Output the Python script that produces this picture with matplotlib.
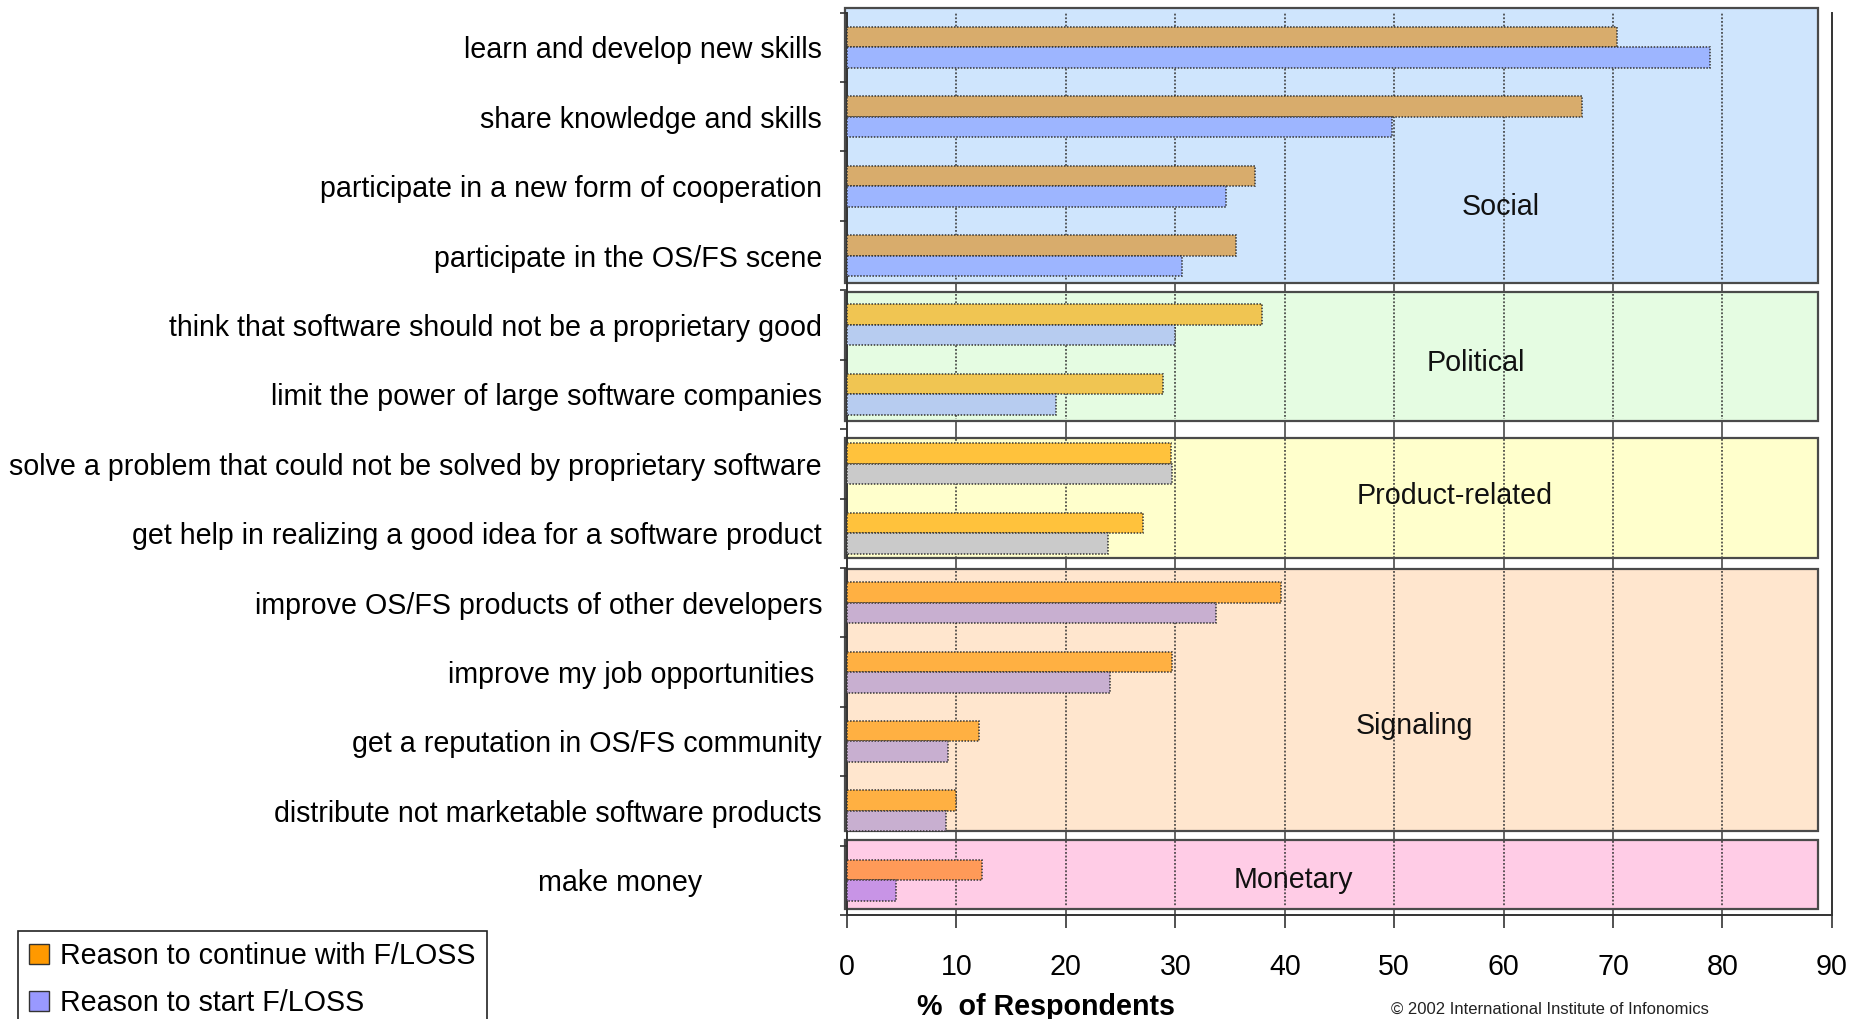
import matplotlib
matplotlib.use("Agg")
import matplotlib.pyplot as plt
from matplotlib.patches import Rectangle, Patch

plt.rcParams['font.family'] = ['Liberation Sans', 'DejaVu Sans']

# ---------------- data ----------------
categories = [
    "learn and develop new skills",
    "share knowledge and skills",
    "participate in a new form of cooperation",
    "participate in the OS/FS scene",
    "think that software should not be a proprietary good",
    "limit the power of large software companies",
    "solve a problem that could not be solved by proprietary software",
    "get help in realizing a good idea for a software product",
    "improve OS/FS products of other developers",
    "improve my job opportunities ",
    "get a reputation in OS/FS community",
    "distribute not marketable software products",
    "make money               ",
]
continue_pct = [70.4, 67.2, 37.3, 35.5, 37.9, 28.9, 29.6, 27.0, 39.7, 29.7, 12.1, 10.0, 12.3]
start_pct = [78.9, 49.8, 34.6, 30.6, 30.0, 19.1, 29.7, 23.8, 33.7, 24.0, 9.2, 9.0, 4.5]
group_names = ["Social", "Political", "Product-related", "Signaling", "Monetary"]
group_of = [0, 0, 0, 0, 1, 1, 2, 2, 3, 3, 3, 3, 4]
legend_labels = ["Reason to continue with F/LOSS", "Reason to start F/LOSS"]
x_ticks = [0, 10, 20, 30, 40, 50, 60, 70, 80, 90]
x_label = "%  of Respondents"
credit = "\u00a9 2002 International Institute of Infonomics"

# ---------------- styles ----------------
panel_colors = ["#CFE5FD", "#E5FCE2", "#FFFFCC", "#FFE6CE", "#FFCCE6"]
cont_colors = ["#D8AC6C", "#F0C552", "#FFC23C", "#FFB042", "#FF9A58"]
start_colors = ["#9DB5FF", "#B7CCF0", "#CACACA", "#C8AFD0", "#C894E6"]
group_label_pos = [(59.7, 2.3), (57.5, 4.55), (55.5, 6.47), (51.8, 9.78), (40.8, 12.0)]
panel_pad = [(0.56, 0.39), (0.47, 0.38), (0.37, 0.36), (0.48, 0.29), (0.58, 0.41)]
legend_colors = ["#FF9900", "#9999FF"]
FS = 20.6

fig = plt.figure(figsize=(18.56, 10.19), dpi=100)
ax = fig.add_axes([0.4564, 0.102, 0.987 - 0.4564, 0.9877 - 0.102])
ax.set_xlim(0, 90)
ax.set_ylim(12.5, -0.5)

n = len(categories)
bar_h = 0.295
panel_right = 88.7

# solid grid lines (visible in gaps between panels)
ax.vlines(x_ticks[1:-1], -0.5, 12.5, colors="#3a3a3a", lw=1.1, zorder=0.3)

# group panels
for g, name in enumerate(group_names):
    rows = [i for i in range(n) if group_of[i] == g]
    top = min(rows) - panel_pad[g][0]
    bot = max(rows) + panel_pad[g][1]
    ax.add_patch(Rectangle((-0.15, top), panel_right + 0.15, bot - top,
                           facecolor=panel_colors[g], edgecolor="#4a4a4a",
                           lw=1.6, zorder=1, clip_on=False))
    ax.vlines(x_ticks[1:-1], top + 0.02, bot - 0.02, colors="#333333",
              lw=1.1, linestyles=(0, (1.2, 1.2)), zorder=1.5)
    ax.text(group_label_pos[g][0], group_label_pos[g][1], name, fontsize=FS,
            ha="center", va="center", color="#111111", zorder=5)

# bars
ypos = list(range(n))
ax.barh([y - bar_h / 2 for y in ypos], continue_pct, height=bar_h,
        color=[cont_colors[group_of[i]] for i in range(n)],
        edgecolor="#333333", linewidth=1.1, linestyle=(0, (1, 1)), zorder=3)
ax.barh([y + bar_h / 2 for y in ypos], start_pct, height=bar_h,
        color=[start_colors[group_of[i]] for i in range(n)],
        edgecolor="#333333", linewidth=1.1, linestyle=(0, (1, 1)), zorder=3)

# axes styling
ax.spines["top"].set_visible(False)
for s in ["left", "bottom", "right"]:
    ax.spines[s].set_color("#333333")
    ax.spines[s].set_linewidth(1.4)
ax.set_xticks(x_ticks)
ax.set_xticklabels([str(t) for t in x_ticks], fontsize=FS)
ax.tick_params(axis="x", direction="out", length=9, width=1.2, color="#333333", pad=18)

ax.set_yticks([i - 0.5 for i in range(n + 1)])
ax.set_yticklabels([])
ax.set_yticks(ypos, minor=True)
ax.set_yticklabels(categories, minor=True, fontsize=FS)
ax.tick_params(axis="y", which="major", direction="out", length=5, width=1.2, color="#333333")
ax.tick_params(axis="y", which="minor", length=0, pad=18)

ax.set_xlabel(x_label, fontsize=FS, fontweight="bold")
ax.xaxis.set_label_coords(18.2 / 90, -0.086)

# legend
handles = [Patch(facecolor=c, edgecolor="#333333", lw=1) for c in legend_colors]
leg = fig.legend(handles, legend_labels, loc="upper left",
                 bbox_to_anchor=(0.0097, 0.0864), fontsize=FS, frameon=True,
                 fancybox=False, framealpha=1, edgecolor="#222222",
                 handlelength=0.7, handleheight=0.7, handletextpad=0.4,
                 labelspacing=0.66, borderpad=0.38, borderaxespad=0)
leg.get_frame().set_linewidth(1.2)

fig.text(1391 / 1856, 1 - 1002 / 1019, credit, fontsize=12, ha="left", va="top", color="#222222")

fig.savefig("out.png", dpi=100)
